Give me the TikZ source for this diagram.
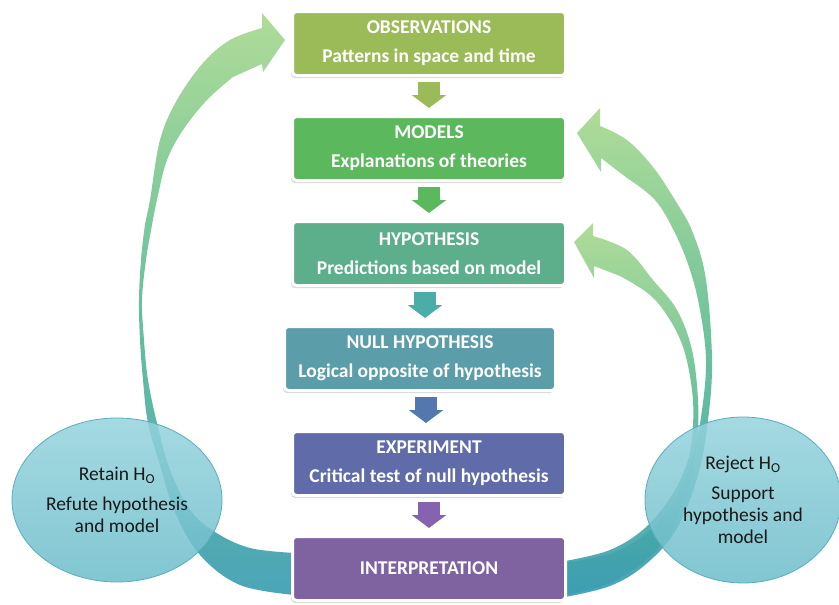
\documentclass[tikz,border=0pt]{standalone}
\usepackage{fontspec}
\setmainfont{Carlito}
\usetikzlibrary{positioning,shapes.geometric,arrows.meta,shadows}

\definecolor{obsgreen}{HTML}{9BBB59}
\definecolor{modgreen}{HTML}{5CB85C}
\definecolor{hypgreen}{HTML}{5DAF8C}
\definecolor{nullteal}{HTML}{5B9DA9}
\definecolor{expblue}{HTML}{5F6CA9}
\definecolor{intpurple}{HTML}{7F63A1}
\definecolor{hyparrow}{HTML}{4BADA8}
\definecolor{nullarrow}{HTML}{5577B0}
\definecolor{exparrow}{HTML}{8663AE}
\definecolor{looplight}{HTML}{A9D98F}
\definecolor{loopmid}{HTML}{5CBB94}
\definecolor{loopdark}{HTML}{3B9DB2}
\definecolor{ovaltop}{HTML}{95D3DD}
\definecolor{ovalbot}{HTML}{6BBCC9}
\definecolor{ovalline}{HTML}{58AEBE}

\begin{document}
\begin{tikzpicture}[
    x=1pt, y=-1pt,
    node distance=38pt,
    stage/.style={rectangle, rounded corners=4pt, draw=white, line width=3pt, minimum width=273pt, minimum height=64pt, text=white, align=center, font=\bfseries\fontsize{19.5}{22}\selectfont, drop shadow={shadow xshift=-1.5pt, shadow yshift=-2.5pt, fill=black!40, opacity=.4}},
    outcome/.style={ellipse, draw=ovalline, line width=0.8pt, top color=ovaltop, bottom color=ovalbot, fill opacity=.85, text opacity=1, text=black!90, align=center, font=\fontsize{19.5}{22}\selectfont},
    flow/.style={line width=22pt, -{Triangle[width=34pt, length=13pt]}, shorten <=5pt, shorten >=7pt},
    loop/.style={top color=looplight, bottom color=loopdark, middle color=loopmid, opacity=.92}
]
    \useasboundingbox (0,0) rectangle (839,605);

    % feedback loops
    \shade[loop] plot[smooth, tension=.6] coordinates {(295,595) (240,585) (200,555) (175,512) (160,465) (148,423) (143,380) (140,340) (139,300) (141,260) (145,225) (150,200) (160,140) (177,100) (203,63) (230,40) (262,28)}
        -- (262,13) -- (285,40) -- (263,72) -- (262,64)
        -- plot[smooth, tension=.6] coordinates {(233,77) (207,100) (183,130) (167,160) (158,195) (152,225) (146,260) (142,300) (144,340) (148,380) (157,423) (170,470) (190,510) (215,532) (250,548) (295,553)} -- cycle;
    \shade[loop] plot[smooth, tension=.6] coordinates {(565,597) (610,586) (645,565) (676,530) (698,475) (708,420) (712,360) (706,280) (693,233) (675,200) (653,167) (627,140) (600,126)}
        -- (600,108) -- (577,133) -- (601,172) -- (601,158)
        -- plot[smooth, tension=.6] coordinates {(627,178) (655,200) (675,233) (690,270) (700,310) (706,360) (702,410) (693,455) (675,500) (650,530) (615,552) (565,563)} -- cycle;
    \shade[loop] plot[smooth, tension=.6] coordinates {(565,595) (605,585) (640,565) (668,535) (688,490) (697,440) (698,400) (692,350) (677,310) (653,280) (627,250) (593,236)}
        -- (593,223) -- (574,242) -- (594,278) -- (594,266)
        -- plot[smooth, tension=.6] coordinates {(620,276) (650,295) (670,320) (684,350) (692,390) (693,425) (688,460) (672,495) (645,528) (610,550) (565,561)} -- cycle;

    % stages
    \node (obs) [stage, fill=obsgreen] at (429,43.5) {OBSERVATIONS\\[7pt]Patterns in space and time};
    \node (models) [stage, fill=modgreen, below=of obs] {MODELS\\[7pt]Explanations of theories};
    \node (hyp) [stage, fill=hypgreen, below=of models] {HYPOTHESIS\\[7pt]Predictions based on model};
    \node (null) [stage, fill=nullteal, below=of hyp, xshift=-9pt, minimum width=271pt] {NULL HYPOTHESIS\\[7pt]Logical opposite of hypothesis};
    \node (exp) [stage, fill=expblue, below=of null, xshift=9pt] {EXPERIMENT\\[7pt]Critical test of null hypothesis};
    \node (interp) [stage, fill=intpurple, below=of exp] {INTERPRETATION};

    \draw [flow, obsgreen] (obs) -- (models);
    \draw [flow, modgreen] (models) -- (hyp);
    \draw [flow, hyparrow] ([xshift=-4pt]hyp.south) -- ([xshift=-4pt]hyp.south |- null.north);
    \draw [flow, nullarrow] ([xshift=-3pt]exp.north |- null.south) -- ([xshift=-3pt]exp.north);
    \draw [flow, exparrow] (exp) -- (interp);

    % outcomes
    \node (retain) [outcome, minimum width=206pt, minimum height=164pt] at (117,500) {Retain H\textsubscript{O}\\[8pt]Refute hypothesis\\and model};
    \node (reject) [outcome, minimum width=196pt, minimum height=166pt] at (743,500) {Reject H\textsubscript{O}\\[8pt]Support\\hypothesis and\\model};
\end{tikzpicture}
\end{document}
